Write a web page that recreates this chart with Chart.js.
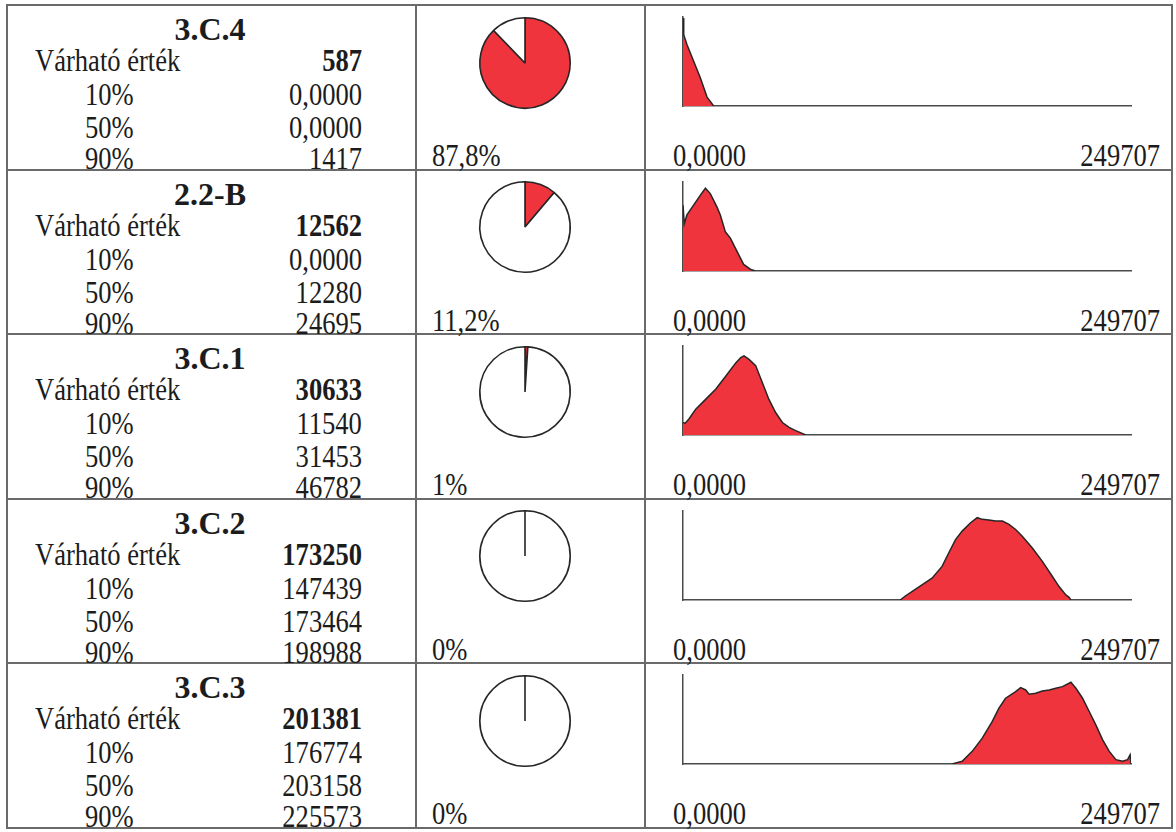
<!DOCTYPE html>
<html>
<head>
<meta charset="utf-8">
<script src="https://cdn.jsdelivr.net/npm/chart.js@4.4.0/dist/chart.umd.min.js"></script>
<style>
  body { margin: 0; background: #fff; }
  #sheet { position: relative; width: 1176px; height: 832px; overflow: hidden; }
  .t { position: absolute; font-family: 'Liberation Serif', 'Times New Roman', serif; font-size: 32px; line-height: 32px; color: #1c1c1c; white-space: nowrap; }
  .sq { transform: scaleX(0.83); transform-origin: left center; }
  .sqr { transform: scaleX(0.83); transform-origin: right center; }
  .b { font-weight: bold; }
  .ln { position: absolute; background: #6a6a6a; }
  canvas { position: absolute; }
</style>
</head>
<body>
<div id="sheet"></div>
<script>
// table values
const codes = ['3.C.4', '2.2-B', '3.C.1', '3.C.2', '3.C.3']
const expected = ['587', '12562', '30633', '173250', '201381']
const p10 = ['0,0000', '0,0000', '11540', '147439', '176774']
const p50 = ['0,0000', '12280', '31453', '173464', '203158']
const p90 = ['1417', '24695', '46782', '198988', '225573']
const pieShare = [87.8, 11.2, 1, 0, 0]
const pieLabels = ['87,8%', '11,2%', '1%', '0%', '0%']
const xMinLabel = '0,0000'
const xMax = 249707

// distributions (relative height)
const x34 = [0, 400, 2200, 6000, 9600, 13400, 17100]
const y34 = [0.99, 0.80, 0.69, 0.50, 0.32, 0.10, 0]

const x22B = [0, 700, 2200, 5900, 9600, 12500, 15200, 18900, 20800, 23600, 26400, 30100, 33800, 37500, 40300]
const y22B = [0.74, 0.53, 0.63, 0.74, 0.85, 0.93, 0.87, 0.72, 0.63, 0.44, 0.37, 0.22, 0.074, 0.02, 0]

const x31 = [0, 1100, 3300, 7100, 12600, 18200, 23800, 29400, 32200, 34000, 36800, 40500, 44200, 47900, 51700, 55400, 59100, 62800, 68400]
const y31 = [0.14, 0.13, 0.18, 0.29, 0.40, 0.515, 0.66, 0.81, 0.87, 0.89, 0.85, 0.78, 0.59, 0.40, 0.25, 0.14, 0.086, 0.049, 0]

const x32 = [121100, 123900, 127600, 133200, 138800, 144400, 148100, 151900, 155600, 160300, 164000, 166800, 170500, 174200, 178000, 181700, 185400, 189100, 194700, 200300, 205900, 209600, 213400, 215200, 216200]
const y32 = [0, 0.045, 0.094, 0.17, 0.245, 0.377, 0.528, 0.679, 0.774, 0.868, 0.925, 0.906, 0.898, 0.887, 0.887, 0.849, 0.792, 0.717, 0.585, 0.434, 0.264, 0.151, 0.057, 0.03, 0]

const x33 = [150000, 155600, 161200, 166800, 172400, 176100, 179800, 185400, 188200, 191000, 192900, 196600, 200300, 204100, 207800, 211500, 216200, 219000, 222700, 226400, 230100, 233900, 237600, 241300, 245000, 247800, 249200, 249700]
const y33 = [0, 0.03, 0.142, 0.291, 0.478, 0.627, 0.739, 0.813, 0.858, 0.832, 0.784, 0.795, 0.821, 0.832, 0.851, 0.869, 0.918, 0.851, 0.739, 0.59, 0.44, 0.272, 0.142, 0.049, 0.03, 0.049, 0.104, 0]

const distX = [x34, x22B, x31, x32, x33]
const distY = [y34, y22B, y31, y32, y33]

const RED = 'rgb(240, 52, 62)'
const INK = '#262626'
const sheet = document.getElementById('sheet')
const rowTop = i => 5 + i * 164.6

function line(x, y, w, h) {
  const d = document.createElement('div')
  d.className = 'ln'
  d.style.left = x + 'px'; d.style.top = y + 'px'
  d.style.width = w + 'px'; d.style.height = h + 'px'
  sheet.appendChild(d)
}

// baseline -> top for a 32px line box
function text(txt, x, base, cls, align) {
  const d = document.createElement('div')
  d.className = 't ' + cls
  d.textContent = txt
  d.style.top = (base - 27) + 'px'
  if (align == 'right') d.style.right = (1176 - x) + 'px'
  else if (align == 'center') { d.style.left = x + 'px'; d.style.transform = 'translateX(-50%)' }
  else d.style.left = x + 'px'
  sheet.appendChild(d)
}

function canvas(x, y, w, h) {
  const c = document.createElement('canvas')
  c.width = w; c.height = h
  c.style.left = x + 'px'; c.style.top = y + 'px'
  sheet.appendChild(c)
  return c
}

// grid
for (let i = 0; i <= 5; i++) line(7, Math.round(rowTop(i)) - 1, 1166, 2)
;[7, 416, 645, 1172].forEach(x => line(x - 1, 4, 2, 825))

codes.forEach((code, i) => {
  const top = rowTop(i)
  text(code, 210, top + 35, 'b', 'center')
  text('Várható érték', 35, top + 66, 'sq', 'left')
  text(expected[i], 362, top + 66, 'sqr b', 'right')
  text('10%', 85, top + 100, 'sq', 'left')
  text(p10[i], 362, top + 100, 'sqr', 'right')
  text('50%', 85, top + 133, 'sq', 'left')
  text(p50[i], 362, top + 133, 'sqr', 'right')
  text('90%', 85, top + 164, 'sq', 'left')
  text(p90[i], 362, top + 164, 'sqr', 'right')
  text(pieLabels[i], 432, top + 161, 'sq', 'left')
  text(xMinLabel, 673, top + 161, 'sq', 'left')
  text(String(xMax), 1160, top + 161, 'sqr', 'right')

  // pie
  new Chart(canvas(475, Math.round(top + 7.5), 100, 100), {
    type: 'pie',
    data: {
      labels: ['', ''],
      datasets: [{
        data: [pieShare[i], 100 - pieShare[i]],
        backgroundColor: [RED, '#fff'],
        borderColor: INK,
        borderWidth: 1.6
      }]
    },
    options: {
      responsive: false,
      animation: false,
      events: [],
      layout: { padding: 4 },
      plugins: { legend: { display: false }, tooltip: { enabled: false } }
    }
  })

  // distribution
  const pts = distX[i].map((x, k) => ({ x: x, y: distY[i][k] }))
  new Chart(canvas(678, Math.round(top + 8), 458, 97), {
    type: 'line',
    data: {
      datasets: [{
        data: pts,
        fill: 'origin',
        backgroundColor: RED,
        borderColor: INK,
        borderWidth: 1.5,
        pointRadius: 0,
        tension: 0
      }]
    },
    options: {
      responsive: false,
      animation: false,
      events: [],
      layout: { padding: { left: 5, right: 5, top: 4, bottom: 4 } },
      scales: {
        x: {
          type: 'linear', min: 0, max: xMax,
          grid: { display: false, drawTicks: false },
          ticks: { display: false },
          border: { display: true, color: '#4a4a4a', width: 1.5 }
        },
        y: {
          min: 0, max: 1,
          grid: { display: false, drawTicks: false },
          ticks: { display: false },
          border: { display: true, color: '#4a4a4a', width: 1.5 }
        }
      },
      plugins: { legend: { display: false }, tooltip: { enabled: false } }
    }
  })
})
</script>
</body>
</html>
